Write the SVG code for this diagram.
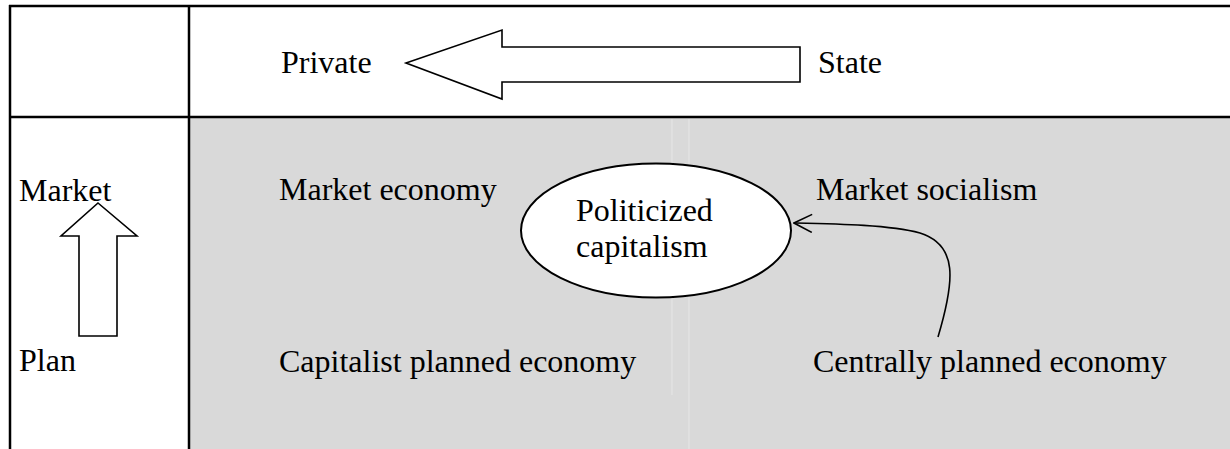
<svg xmlns="http://www.w3.org/2000/svg" width="1230" height="449" viewBox="0 0 1230 449">
  <style>
    .t { font-family: "Liberation Serif", "Times New Roman", serif; font-size: 32px; fill: #000; }
    .grid { stroke: #000; stroke-width: 2.5; fill: none; }
    .block { fill: #fff; stroke: #000; stroke-width: 1.6; stroke-linejoin: miter; }
    .faint { stroke: #e6e6e6; stroke-width: 1; }
  </style>
  <defs>
    <marker id="open" viewBox="0 0 20 20" refX="19" refY="10" markerWidth="20" markerHeight="20" markerUnits="userSpaceOnUse" orient="auto">
      <polyline points="1,1 19,10 1,19" fill="none" stroke="#000" stroke-width="1.6"/>
    </marker>
  </defs>
  <rect x="0" y="0" width="1230" height="449" fill="#fff"/>
  <g id="table">
    <rect x="190" y="118" width="1040" height="331" fill="#d9d9d9"/>
    <line class="faint" x1="672" y1="119" x2="672" y2="395"/>
    <line class="faint" x1="689" y1="119" x2="689" y2="449"/>
    <line class="grid" x1="9" y1="6" x2="1230" y2="6"/>
    <line class="grid" x1="9" y1="117" x2="1230" y2="117"/>
    <line class="grid" x1="10" y1="5" x2="10" y2="449"/>
    <line class="grid" x1="189" y1="5" x2="189" y2="449"/>
  </g>
  <g id="node-private"><text class="t" x="281" y="73">Private</text></g>
  <g id="node-state"><text class="t" x="818" y="73">State</text></g>
  <g id="arrow-ownership">
    <polygon class="block" points="406,63 502,30 502,47 800,47 800,82 502,82 502,99"/>
  </g>
  <g id="node-market"><text class="t" x="19" y="201">Market</text></g>
  <g id="node-plan"><text class="t" x="19" y="371">Plan</text></g>
  <g id="arrow-coordination">
    <polygon class="block" points="98,203 137,236 117,236 117,336 79,336 79,236 61,236"/>
  </g>
  <g id="node-market-economy"><text class="t" x="279" y="200">Market economy</text></g>
  <g id="node-market-socialism"><text class="t" x="816" y="200">Market socialism</text></g>
  <g id="node-capitalist-planned"><text class="t" x="279" y="372">Capitalist planned economy</text></g>
  <g id="node-centrally-planned"><text class="t" x="813" y="372">Centrally planned economy</text></g>
  <g id="node-politicized">
    <ellipse cx="656" cy="230.5" rx="135" ry="67" fill="#fff" stroke="#000" stroke-width="2"/>
    <text class="t" x="576" y="221">Politicized</text>
    <text class="t" x="576" y="257">capitalism</text>
  </g>
  <g id="connectors">
    <path d="M 938 337 C 955 280, 958 245, 920 233 C 890 225, 840 224, 794 223" fill="none" stroke="#000" stroke-width="1.6" marker-end="url(#open)"/>
  </g>
</svg>
